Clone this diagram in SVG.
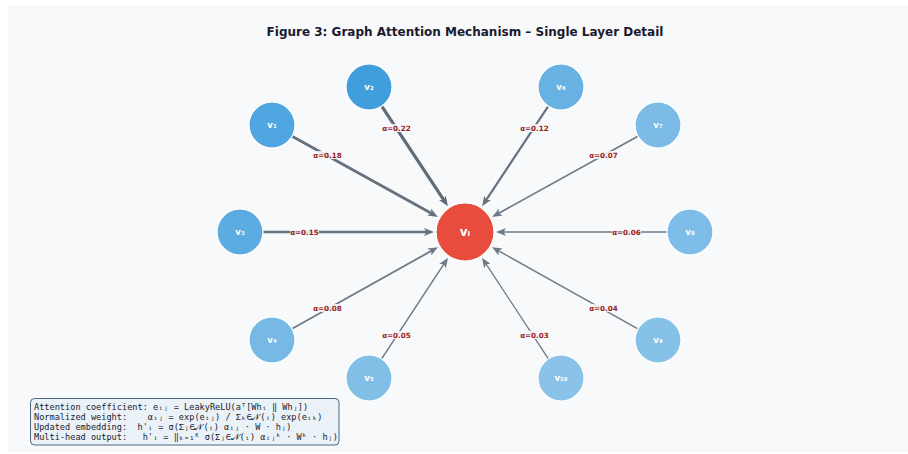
<svg xmlns="http://www.w3.org/2000/svg" width="908" height="454" viewBox="0 0 908 454">
<style>
.title{font-family:"DejaVu Sans",sans-serif;font-weight:bold;font-size:12px;fill:#1a1a2e;text-anchor:middle}
.edge{stroke:#566573;fill:none}
.nb{fill:#3498db;stroke:#ffffff;stroke-width:1.2}
.nl{font-family:"DejaVu Sans",sans-serif;font-weight:bold;font-size:8.5px;fill:#ffffff;text-anchor:middle;dominant-baseline:central}
.cl{font-family:"DejaVu Sans",sans-serif;font-weight:bold;font-size:12px;fill:#ffffff;text-anchor:middle;dominant-baseline:central}
.el{font-family:"DejaVu Sans",sans-serif;font-weight:bold;font-size:7.2px;fill:#9b1c1c;text-anchor:middle;dominant-baseline:central}
.elb{fill:#f8f9fa;opacity:0.85}
.fm{font-family:"DejaVu Sans Mono",monospace;font-size:8.6px;fill:#1a1a2e;white-space:pre}
</style>
<defs>
<marker id="ah" markerUnits="userSpaceOnUse" markerWidth="10" markerHeight="8" refX="6" refY="4" orient="auto" viewBox="0 0 10 8">
<path d="M0,0 L10,4 L0,8 L2.5,4 z" fill="#566573"/>
</marker>
</defs>
<rect x="0" y="0" width="908" height="454" fill="#ffffff"/>
<rect x="8" y="5" width="900" height="447" fill="#f8f9fa"/>
<text class="title" x="465" y="36">Figure 3: Graph Attention Mechanism – Single Layer Detail</text>
<g id="connectors">
<line class="edge" x1="292.1" y1="136.2" x2="434.4" y2="215.0" stroke-width="2.8" marker-end="url(#ah)" opacity="0.9"/>
<line class="edge" x1="381.7" y1="106.2" x2="445.7" y2="202.8" stroke-width="3.2" marker-end="url(#ah)" opacity="0.95"/>
<line class="edge" x1="263" y1="232" x2="430" y2="232" stroke-width="2.5" marker-end="url(#ah)" opacity="0.9"/>
<line class="edge" x1="292.1" y1="328.8" x2="434.5" y2="249.1" stroke-width="1.8" marker-end="url(#ah)" opacity="0.85"/>
<line class="edge" x1="381.6" y1="358.8" x2="445.8" y2="261.2" stroke-width="1.5" marker-end="url(#ah)" opacity="0.85"/>
<line class="edge" x1="548.3" y1="106.2" x2="484.3" y2="202.8" stroke-width="2.2" marker-end="url(#ah)" opacity="0.9"/>
<line class="edge" x1="637.9" y1="136.2" x2="495.6" y2="215.0" stroke-width="1.7" marker-end="url(#ah)" opacity="0.85"/>
<line class="edge" x1="667" y1="232" x2="500" y2="232" stroke-width="1.6" marker-end="url(#ah)" opacity="0.85"/>
<line class="edge" x1="637.9" y1="328.8" x2="495.5" y2="249.1" stroke-width="1.4" marker-end="url(#ah)" opacity="0.85"/>
<line class="edge" x1="548.4" y1="358.8" x2="484.2" y2="261.2" stroke-width="1.3" marker-end="url(#ah)" opacity="0.85"/>
<g id="edge-labels">
<rect class="elb" x="313" y="151" width="29" height="8"/><text class="el" x="327.5" y="155">α=0.18</text>
<rect class="elb" x="382" y="124" width="29" height="8"/><text class="el" x="396.5" y="128">α=0.22</text>
<rect class="elb" x="290" y="228" width="29" height="8"/><text class="el" x="304.5" y="232">α=0.15</text>
<rect class="elb" x="313" y="304" width="29" height="8"/><text class="el" x="327.5" y="308">α=0.08</text>
<rect class="elb" x="382" y="331" width="29" height="8"/><text class="el" x="396.5" y="335">α=0.05</text>
<rect class="elb" x="520" y="124" width="29" height="8"/><text class="el" x="534.5" y="128">α=0.12</text>
<rect class="elb" x="589" y="151" width="29" height="8"/><text class="el" x="603.5" y="155">α=0.07</text>
<rect class="elb" x="612" y="228" width="29" height="8"/><text class="el" x="626.5" y="232">α=0.06</text>
<rect class="elb" x="589" y="304" width="29" height="8"/><text class="el" x="603.5" y="308">α=0.04</text>
<rect class="elb" x="520" y="331" width="29" height="8"/><text class="el" x="534.5" y="335">α=0.03</text>
</g>
</g>
<g id="vi"><circle cx="465" cy="232" r="29" fill="#e74c3c" stroke="#ffffff" stroke-width="1.2"/><text class="cl" x="465" y="232">vᵢ</text></g>
<g id="v1"><circle class="nb" cx="272" cy="125" r="23" fill-opacity="0.86"/><text class="nl" x="272" y="125">v₁</text></g>
<g id="v2"><circle class="nb" cx="369" cy="87" r="23" fill-opacity="0.94"/><text class="nl" x="369" y="87">v₂</text></g>
<g id="v3"><circle class="nb" cx="240" cy="232" r="23" fill-opacity="0.8"/><text class="nl" x="240" y="232">v₃</text></g>
<g id="v4"><circle class="nb" cx="272" cy="340" r="23" fill-opacity="0.66"/><text class="nl" x="272" y="340">v₄</text></g>
<g id="v5"><circle class="nb" cx="369" cy="378" r="23" fill-opacity="0.6"/><text class="nl" x="369" y="378">v₅</text></g>
<g id="v6"><circle class="nb" cx="561" cy="87" r="23" fill-opacity="0.74"/><text class="nl" x="561" y="87">v₆</text></g>
<g id="v7"><circle class="nb" cx="658" cy="125" r="23" fill-opacity="0.64"/><text class="nl" x="658" y="125">v₇</text></g>
<g id="v8"><circle class="nb" cx="690" cy="232" r="23" fill-opacity="0.62"/><text class="nl" x="690" y="232">v₈</text></g>
<g id="v9"><circle class="nb" cx="658" cy="340" r="23" fill-opacity="0.58"/><text class="nl" x="658" y="340">v₉</text></g>
<g id="v10"><circle class="nb" cx="561" cy="378" r="23" fill-opacity="0.56"/><text class="nl" x="561" y="378">v₁₀</text></g>
<g id="formula-box">
<rect x="30.5" y="398.5" width="308.5" height="46.5" rx="4" fill="#eaf2f8" stroke="#4a6785" stroke-width="1"/>
<text class="fm" x="34" y="409.5" xml:space="preserve">Attention coefficient: eᵢⱼ = LeakyReLU(aᵀ[Whᵢ ‖ Whⱼ])</text>
<text class="fm" x="34" y="419.8" xml:space="preserve">Normalized weight:    αᵢⱼ = exp(eᵢⱼ) / Σₖ∈𝒩(ᵢ) exp(eᵢₖ)</text>
<text class="fm" x="34" y="430.1" xml:space="preserve">Updated embedding:  h'ᵢ = σ(Σⱼ∈𝒩(ᵢ) αᵢⱼ · W · hⱼ)</text>
<text class="fm" x="34" y="440.4" xml:space="preserve">Multi-head output:   h'ᵢ = ‖ₖ₌₁ᴷ σ(Σⱼ∈𝒩(ᵢ) αᵢⱼᵏ · Wᵏ · hⱼ)</text>
</g>
</svg>
